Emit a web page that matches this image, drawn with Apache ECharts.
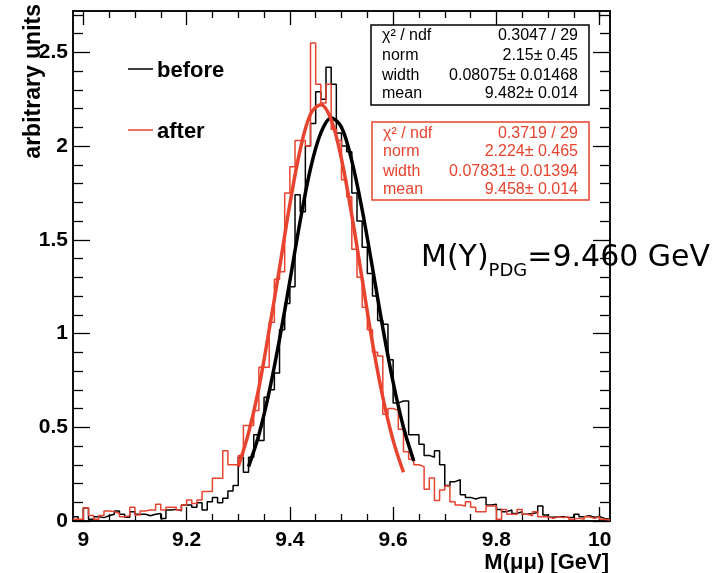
<!DOCTYPE html>
<html>
<head>
<meta charset="utf-8">
<script src="https://cdn.jsdelivr.net/npm/echarts@6/dist/echarts.min.js"></script>
<style>
html,body{margin:0;padding:0;background:#fff;}
#chart{width:716px;height:573px;}
</style>
</head>
<body>
<div id="chart"></div>
<script>
// ---- data ----
const binLow = 8.98;
const binWidth = 0.01;
const beforeCounts = [
 0.023,0.005,0.07,0.01,0.023,0.018,0.028,0.036,0.053,0.036,
 0.02,0.05,0.036,0.036,0.028,0.036,0.04,0.014,0.059,0.062,
 0.055,0.085,0.085,0.073,0.098,0.059,0.103,0.126,0.098,0.121,
 0.16,0.19,0.34,0.26,0.34,0.46,0.43,0.66,0.70,0.79,
 1.02,1.16,1.25,1.74,1.65,2.0,2.12,2.29,2.25,2.42,
 2.33,2.07,2.0,1.97,1.75,1.60,1.46,1.32,1.20,1.07,
 1.05,0.86,0.63,0.64,0.64,0.46,0.46,0.41,0.35,0.34,
 0.375,0.30,0.19,0.21,0.22,0.14,0.126,0.117,0.126,0.126,
 0.085,0.09,0.062,0.05,0.059,0.04,0.05,0.036,0.04,0.045,
 0.08,0.032,0.02,0.023,0.023,0.018,0.02,0.036,0.023,0.028,
 0.02,0.023,0.014,0.01
];
const afterCounts = [
 0.01,0.01,0.07,0.03,0.01,0.03,0.053,0.05,0.04,0.023,
 0.028,0.073,0.032,0.053,0.059,0.059,0.089,0.059,0.073,0.073,
 0.059,0.085,0.112,0.094,0.112,0.157,0.157,0.228,0.228,0.375,
 0.30,0.30,0.35,0.51,0.51,0.59,0.82,0.82,1.06,1.29,
 1.33,1.75,1.89,2.03,2.03,2.0,2.55,2.33,2.23,2.33,
 2.09,2.03,1.82,1.73,1.45,1.30,1.14,1.02,0.90,0.88,
 0.57,0.60,0.59,0.49,0.37,0.33,0.30,0.29,0.17,0.23,
 0.11,0.166,0.187,0.103,0.085,0.08,0.103,0.073,0.05,0.05,
 0.08,0.08,0.01,0.062,0.036,0.036,0.062,0.036,0.028,0.05,
 0.023,0.023,0.014,0.023,0.018,0.023,0.01,0.014,0.009,0.023,
 0.014,0.023,0.009,0.005
];
const beforeFitX = [9.32,9.34,9.36,9.38,9.40,9.42,9.44,9.46,9.48,9.50,9.52,9.54,9.56,9.58,9.60,9.62,9.64];
const beforeFitY = [0.29,0.46,0.69,0.97,1.28,1.60,1.88,2.07,2.15,2.10,1.92,1.66,1.35,1.03,0.74,0.50,0.32];
const afterFitX = [9.30,9.32,9.34,9.36,9.38,9.40,9.42,9.44,9.46,9.48,9.50,9.52,9.54,9.56,9.58,9.60,9.62];
const afterFitY = [0.29,0.47,0.71,1.02,1.35,1.69,1.98,2.17,2.22,2.14,1.93,1.63,1.29,0.95,0.66,0.43,0.26];

const xMajor = [9, 9.2, 9.4, 9.6, 9.8, 10];
const xMinor = [9.05,9.1,9.15,9.25,9.3,9.35,9.45,9.5,9.55,9.65,9.7,9.75,9.85,9.9,9.95,10.0];
const yMajor = [0, 0.5, 1, 1.5, 2, 2.5];
const yMinor = [0.1,0.2,0.3,0.4,0.6,0.7,0.8,0.9,1.1,1.2,1.3,1.4,1.6,1.7,1.8,1.9,2.1,2.2,2.3,2.4,2.6,2.7];

const beforeStats = [["\u03c7\u00b2 / ndf","0.3047 / 29"],["norm","2.15\u00b1 0.45"],["width","0.08075\u00b1 0.01468"],["mean","9.482\u00b1 0.014"]];
const afterStats  = [["\u03c7\u00b2 / ndf","0.3719 / 29"],["norm","2.224\u00b1 0.465"],["width","0.07831\u00b1 0.01394"],["mean","9.458\u00b1 0.014"]];

const X_MIN = 8.98, X_MAX = 10.02, Y_MIN = 0, Y_MAX = 2.72;
const RED = '#e8432e';

// ---- build ----
function histPoints(counts){
  const pts = counts.map((v,i)=>[+(binLow + i*binWidth).toFixed(4), v]);
  pts.push([+(binLow + counts.length*binWidth).toFixed(4), counts[counts.length-1]]);
  return pts;
}
function zip(xs, ys){ return xs.map((x,i)=>[x, ys[i]]); }

const labelFont = {color:'#000', fontSize:21, fontFamily:'Liberation Sans', fontWeight:'bold'};
function xAx(pos, ticks, len, label){
  return {type:'value', position:pos, min:X_MIN, max:X_MAX,
    axisLine:{show:true, onZero:false, lineStyle:{color:'#000', width:1.5}},
    axisTick:{show:true, inside:true, length:len, customValues:ticks, lineStyle:{color:'#000', width:1.3}},
    axisLabel: label ? Object.assign({show:true, customValues:xMajor, margin:9, formatter:v=>String(+v.toFixed(2))}, labelFont) : {show:false},
    splitLine:{show:false}};
}
function yAx(pos, ticks, len, label){
  return {type:'value', position:pos, min:Y_MIN, max:Y_MAX,
    axisLine:{show:true, onZero:false, lineStyle:{color:'#000', width:1.5}},
    axisTick:{show:true, inside:true, length:len, customValues:ticks, lineStyle:{color:'#000', width:1.3}},
    axisLabel: label ? Object.assign({show:true, customValues:yMajor, margin:5, formatter:v=>String(+v.toFixed(2))}, labelFont) : {show:false},
    splitLine:{show:false}};
}

const graphics = [];
// y title
graphics.push({type:'text', x:34, y:4, rotation:Math.PI/2,
  style:{text:'arbitrary units', align:'right', verticalAlign:'middle', fill:'#000', fontSize:23, fontWeight:'bold', fontFamily:'Liberation Sans'}});
// x title
graphics.push({type:'text', x:609, y:563,
  style:{text:'M(\u03bc\u03bc) [GeV]', align:'right', verticalAlign:'middle', fill:'#000', fontSize:22, fontWeight:'bold', fontFamily:'Liberation Sans'}});
// legend
graphics.push({type:'line', shape:{x1:128,y1:69,x2:153,y2:69}, style:{stroke:'#000', lineWidth:1.5}});
graphics.push({type:'text', x:157, y:71, style:{text:'before', align:'left', verticalAlign:'middle', fill:'#000', fontSize:22, fontWeight:'bold', fontFamily:'Liberation Sans'}});
graphics.push({type:'line', shape:{x1:128,y1:130,x2:153,y2:130}, style:{stroke:RED, lineWidth:1.5}});
graphics.push({type:'text', x:157, y:132, style:{text:'after', align:'left', verticalAlign:'middle', fill:'#000', fontSize:22, fontWeight:'bold', fontFamily:'Liberation Sans'}});
// stat boxes
function statBox(x, y, w, h, rows, color, rowY){
  graphics.push({type:'rect', shape:{x:x, y:y, width:w, height:h}, style:{fill:'#fff', stroke:color, lineWidth:1.5}, z:10});
  rows.forEach((r,i)=>{
    graphics.push({type:'text', x:x+11, y:rowY[i], z:11, style:{text:r[0], align:'left', verticalAlign:'middle', fill:color, fontSize:16, fontFamily:'Liberation Sans'}});
    graphics.push({type:'text', x:x+w-11, y:rowY[i], z:11, style:{text:r[1], align:'right', verticalAlign:'middle', fill:color, fontSize:16, fontFamily:'Liberation Sans'}});
  });
}
statBox(371, 25, 218, 80, beforeStats, '#000', [36, 56, 76, 94]);
statBox(372, 122, 217, 78, afterStats, RED, [134, 152, 172, 190]);

// M(Y)PDG annotation
(function(){
  const c = document.createElement('canvas').getContext('2d');
  const big = '30px "DejaVu Sans"', small = '18px "DejaVu Sans"';
  c.font = big; const w1 = c.measureText('M(Y)').width;
  c.font = small; const w2 = c.measureText('PDG').width;
  const x0 = 421;
  graphics.push({type:'text', x:x0, y:258, style:{text:'M(Y)', align:'left', verticalAlign:'middle', fill:'#000', fontSize:30, fontFamily:'DejaVu Sans'}});
  graphics.push({type:'text', x:x0+w1, y:271, style:{text:'PDG', align:'left', verticalAlign:'middle', fill:'#000', fontSize:18, fontFamily:'DejaVu Sans'}});
  graphics.push({type:'text', x:x0+w1+w2, y:258, style:{text:'=9.460 GeV', align:'left', verticalAlign:'middle', fill:'#000', fontSize:30, fontFamily:'DejaVu Sans'}});
})();

const chart = echarts.init(document.getElementById('chart'), null, {renderer:'canvas'});
chart.setOption({
  animation:false,
  backgroundColor:'#fff',
  grid:{left:73, right:106, top:11, bottom:52, containLabel:false},
  xAxis:[xAx('bottom', xMajor, 14, true), xAx('bottom', xMinor, 7, false), xAx('top', xMajor, 14, false), xAx('top', xMinor, 7, false)],
  yAxis:[yAx('left', yMajor, 17, true), yAx('left', yMinor, 10, false), yAx('right', yMajor, 17, false), yAx('right', yMinor, 10, false)],
  series:[
    {name:'before', type:'line', step:'end', data:histPoints(beforeCounts), symbol:'none', clip:true,
      lineStyle:{color:'#000', width:1.5}, itemStyle:{color:'#000'}, z:2},
    {name:'after', type:'line', step:'end', data:histPoints(afterCounts), symbol:'none', clip:true,
      lineStyle:{color:RED, width:1.5}, itemStyle:{color:RED}, z:3},
    {name:'before fit', type:'line', smooth:0.35, data:zip(beforeFitX, beforeFitY), symbol:'none',
      lineStyle:{color:'#000', width:3.5}, itemStyle:{color:'#000'}, z:4},
    {name:'after fit', type:'line', smooth:0.35, data:zip(afterFitX, afterFitY), symbol:'none',
      lineStyle:{color:RED, width:3.5}, itemStyle:{color:RED}, z:5}
  ],
  graphic:graphics
});
</script>
</body>
</html>
